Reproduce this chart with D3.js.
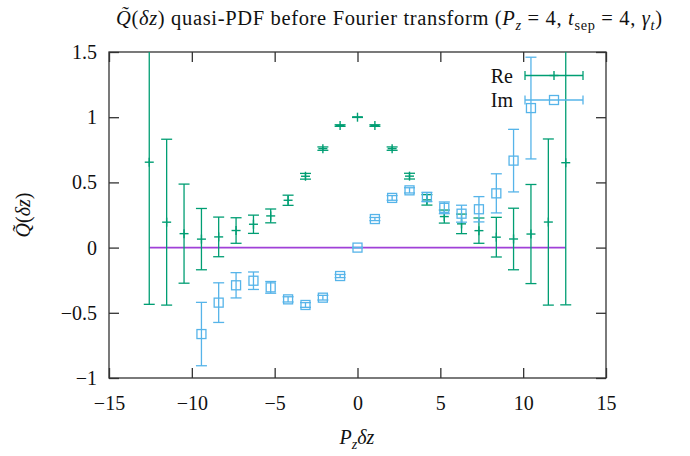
<!DOCTYPE html>
<html>
<head>
<meta charset="utf-8">
<script src="https://cdn.jsdelivr.net/npm/d3@7"></script>
<style>
  body { margin: 0; background: #fff; }
  svg { display: block; font-family: "Liberation Serif", "DejaVu Serif", serif; }
</style>
</head>
<body>
<div id="svg-container"></div>
<script>
////////////////////////////////////////////////////////////////////
////////////////////////////  Data  ////////////////////////////////
// x = Pz * dz
const reX = [-12.57, -11.52, -10.47, -9.42, -8.38, -7.33, -6.28, -5.24, -4.19, -3.14, -2.09, -1.05,
  0, 1.05, 2.09, 3.14, 4.19, 5.24, 6.28, 7.33, 8.38, 9.42, 10.47, 11.52, 12.57];
const reY = [0.655, 0.195, 0.107, 0.065, 0.082, 0.131, 0.179, 0.243, 0.363, 0.547, 0.759, 0.936,
  1.0, 0.936, 0.759, 0.548, 0.366, 0.238, 0.182, 0.13, 0.08, 0.066, 0.104, 0.196, 0.651];
const reErr = [1.09, 0.636, 0.38, 0.235, 0.152, 0.098, 0.07, 0.053, 0.039, 0.022, 0.013, 0.006,
  0.002, 0.006, 0.013, 0.022, 0.04, 0.05, 0.075, 0.097, 0.152, 0.236, 0.38, 0.637, 1.09];

const imX = [-9.42, -8.38, -7.33, -6.28, -5.24, -4.19, -3.14, -2.09, -1.05, 0,
  1.05, 2.09, 3.14, 4.19, 5.24, 6.28, 7.33, 8.38, 9.42, 10.47];
const imY = [-0.663, -0.422, -0.289, -0.254, -0.305, -0.397, -0.44, -0.384, -0.218, 0,
  0.219, 0.381, 0.439, 0.388, 0.305, 0.26, 0.294, 0.416, 0.667, 1.07];
const imErr = [0.243, 0.152, 0.097, 0.067, 0.045, 0.02, 0.018, 0.018, 0.012, 0.002,
  0.012, 0.018, 0.02, 0.035, 0.045, 0.065, 0.097, 0.15, 0.24, 0.39];

const xTicks = [-15, -10, -5, 0, 5, 10, 15];
const yTicks = [-1, -0.5, 0, 0.5, 1, 1.5];

////////////////////////////////////////////////////////////////////
////////////////////////////  Init  ////////////////////////////////
const width = 690;
const height = 456;
const margin = { top: 52, right: 84, bottom: 78, left: 109 };

const colRe = "#009e73";
const colIm = "#56b4e9";
const colZero = "#a040d8";
const colAxis = "#333";

const svg = d3.select("#svg-container").append("svg")
  .attr("width", width).attr("height", height);

const xScale = d3.scaleLinear().domain([-15, 15]).range([margin.left, width - margin.right]);
const yScale = d3.scaleLinear().domain([-1, 1.5]).range([height - margin.bottom, margin.top]);

const fmt = (d) => (d < 0 ? "\u2212" + Math.abs(d) : String(d));

// rich text with italic parts and subscripts
function rich(sel, parts) {
  let shifted = 0;
  parts.forEach((p) => {
    const t = sel.append("tspan").text(p.t);
    if (p.i) t.attr("font-style", "italic");
    const want = p.sub ? 5 : 0;
    if (want !== shifted) { t.attr("dy", want - shifted); shifted = want; }
    if (p.sub) t.attr("font-size", "0.7em");
  });
}

////////////////////////////////////////////////////////////////////
////////////////////////////  Axes  ////////////////////////////////
const xAxis = d3.axisBottom(xScale).tickValues(xTicks).tickFormat(fmt)
  .tickSizeInner(-10).tickSizeOuter(0).tickPadding(18);
const xAxisTop = d3.axisTop(xScale).tickValues(xTicks).tickFormat("")
  .tickSizeInner(-10).tickSizeOuter(0);
const yAxis = d3.axisLeft(yScale).tickValues(yTicks).tickFormat(fmt)
  .tickSizeInner(-10).tickSizeOuter(0).tickPadding(12);
const yAxisRight = d3.axisRight(yScale).tickValues(yTicks).tickFormat("")
  .tickSizeInner(-10).tickSizeOuter(0);

const axes = [
  [xAxis, `translate(0,${height - margin.bottom})`],
  [xAxisTop, `translate(0,${margin.top})`],
  [yAxis, `translate(${margin.left},0)`],
  [yAxisRight, `translate(${width - margin.right},0)`],
];
axes.forEach(([ax, tr]) => {
  const g = svg.append("g").attr("transform", tr).call(ax);
  g.select(".domain").remove();
  g.selectAll(".tick line").attr("stroke", colAxis).attr("stroke-width", 1.3);
  g.selectAll(".tick text").attr("font-size", 20).attr("fill", "#111")
    .attr("font-family", "Liberation Serif, serif");
});

svg.append("rect")
  .attr("x", margin.left).attr("y", margin.top)
  .attr("width", width - margin.left - margin.right)
  .attr("height", height - margin.top - margin.bottom)
  .attr("fill", "none").attr("stroke", colAxis).attr("stroke-width", 1.3);

////////////////////////////////////////////////////////////////////
////////////////////////////  Plot  ////////////////////////////////
svg.append("clipPath").attr("id", "clip").append("rect")
  .attr("x", margin.left).attr("y", margin.top)
  .attr("width", width - margin.left - margin.right)
  .attr("height", height - margin.top - margin.bottom);

const plot = svg.append("g").attr("clip-path", "url(#clip)");

// zero line over the data range
plot.append("line")
  .attr("x1", xScale(reX[0])).attr("x2", xScale(reX[reX.length - 1]))
  .attr("y1", yScale(0)).attr("y2", yScale(0))
  .attr("stroke", colZero).attr("stroke-width", 1.6);

function errorBars(xs, ys, es, color, marker) {
  const g = plot.append("g").attr("stroke", color).attr("fill", "none");
  xs.forEach((x, i) => {
    const cx = xScale(x);
    const top = yScale(ys[i] + es[i]);
    const bot = yScale(ys[i] - es[i]);
    g.append("line").attr("x1", cx).attr("x2", cx).attr("y1", top).attr("y2", bot)
      .attr("stroke-width", 1.3);
    [top, bot].forEach((y) => g.append("line")
      .attr("x1", cx - 5.5).attr("x2", cx + 5.5).attr("y1", y).attr("y2", y)
      .attr("stroke-width", 1.3));
    marker(g, cx, yScale(ys[i]));
  });
}

const plus = (g, cx, cy) => {
  g.append("line").attr("x1", cx - 4.5).attr("x2", cx + 4.5).attr("y1", cy).attr("y2", cy)
    .attr("stroke-width", 1.4);
  g.append("line").attr("x1", cx).attr("x2", cx).attr("y1", cy - 4.5).attr("y2", cy + 4.5)
    .attr("stroke-width", 1.4);
};
const square = (g, cx, cy) => {
  g.append("rect").attr("x", cx - 4.5).attr("y", cy - 4.5).attr("width", 9).attr("height", 9)
    .attr("stroke-width", 1.3);
};

errorBars(reX, reY, reErr, colRe, plus);
errorBars(imX, imY, imErr, colIm, square);

////////////////////////////////////////////////////////////////////
////////////////////////////  Legend  //////////////////////////////
const legend = [
  { label: "Re", color: colRe, marker: plus, y: 75.5 },
  { label: "Im", color: colIm, marker: square, y: 100 },
];
legend.forEach((d) => {
  const g = svg.append("g").attr("stroke", d.color).attr("fill", "none");
  g.append("line").attr("x1", 525).attr("x2", 583).attr("y1", d.y).attr("y2", d.y)
    .attr("stroke-width", 1.3);
  [525, 583].forEach((x) => g.append("line").attr("x1", x).attr("x2", x)
    .attr("y1", d.y - 4.5).attr("y2", d.y + 4.5).attr("stroke-width", 1.3));
  d.marker(g, 554, d.y);
  svg.append("text").attr("x", 513).attr("y", d.y + 7).attr("text-anchor", "end")
    .attr("font-size", 20).attr("fill", "#111").text(d.label);
});

////////////////////////////////////////////////////////////////////
////////////////////////////  Labels  //////////////////////////////
const title = svg.append("text").attr("x", 389).attr("y", 25)
  .attr("text-anchor", "middle").attr("font-size", 20.5).attr("fill", "#111")
  .attr("textLength", 546).attr("lengthAdjust", "spacing");
rich(title, [
  { t: "Q\u0303", i: true }, { t: "(" }, { t: "\u03b4z", i: true },
  { t: ") quasi-PDF before Fourier transform (" },
  { t: "P", i: true }, { t: "z", i: true, sub: true }, { t: " = 4, " },
  { t: "t", i: true }, { t: "sep", sub: true }, { t: " = 4, " },
  { t: "\u03b3", i: true }, { t: "t", i: true, sub: true }, { t: ")" },
]);

const xLabel = svg.append("text").attr("x", 357).attr("y", 444)
  .attr("text-anchor", "middle").attr("font-size", 20).attr("fill", "#111");
rich(xLabel, [{ t: "P", i: true }, { t: "z", i: true, sub: true }, { t: "\u03b4z", i: true }]);

const yLabel = svg.append("text")
  .attr("transform", "translate(30,215) rotate(-90)")
  .attr("text-anchor", "middle").attr("font-size", 20).attr("fill", "#111");
rich(yLabel, [{ t: "Q\u0303", i: true }, { t: "(" }, { t: "\u03b4z", i: true }, { t: ")" }]);
</script>
</body>
</html>
